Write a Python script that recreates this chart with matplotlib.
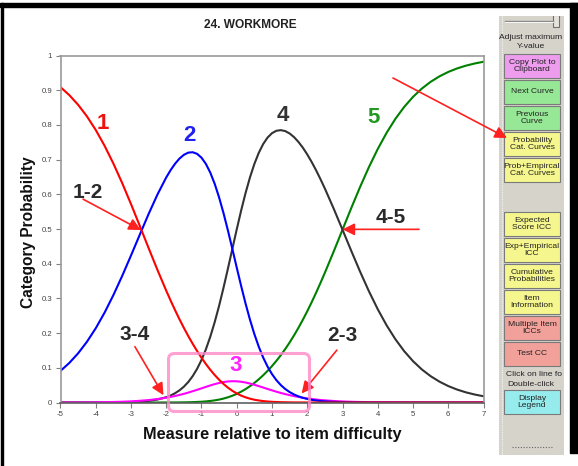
import matplotlib
matplotlib.use('Agg')
import matplotlib.pyplot as plt
from matplotlib.patches import Rectangle, FancyBboxPatch

plt.rcParams['font.family'] = ['Liberation Sans', 'DejaVu Sans']
plt.rcParams['axes.unicode_minus'] = False

# category probability curves; finer steps through the middle where they bend most
measure = [-5.0, -4.75, -4.5, -4.25, -4.0, -3.75, -3.5, -3.25, -3.0, -2.75, -2.5, -2.25,
           -2.0, -1.875, -1.75, -1.625, -1.5, -1.375, -1.25, -1.125, -1.0, -0.875, -0.75,
           -0.625, -0.5, -0.375, -0.25, -0.125, 0.0, 0.125, 0.25, 0.375, 0.5, 0.625, 0.75,
           0.875, 1.0, 1.125, 1.25, 1.375, 1.5, 1.625, 1.75, 1.875, 2.0, 2.125, 2.25, 2.375,
           2.5, 2.75, 3.0, 3.25, 3.5, 3.75, 4.0, 4.25, 4.5, 4.75, 5.0, 5.25, 5.5, 5.75,
           6.0, 6.25, 6.5, 6.75, 7.0]
p1 = [.9088, .8858, .8579, .8246, .7853, .7399, .6887, .6323, .5718, .5087, .4449, .3821,
      .3221, .2936, .2661, .2399, .2150, .1914, .1692, .1483, .1289, .1108, .0942,
      .0791, .0655, .0533, .0428, .0337, .0261, .0199, .0149, .0110, .0080, .0058, .0041,
      .0029, .0020, .0014, .0010, .0007, .0005, .0003, .0002, .0001, .0001, 0, 0, 0,
      0, 0, 0, 0, 0, 0, 0, 0, 0, 0, 0, 0, 0, 0,
      0, 0, 0, 0, 0]
p2 = [.0911, .1140, .1418, .1750, .2140, .2589, .3095, .3648, .4236, .4839, .5434, .5993,
      .6487, .6699, .6881, .7030, .7138, .7201, .7212, .7166, .7055, .6875, .6623,
      .6300, .5907, .5455, .4956, .4427, .3887, .3357, .2852, .2387, .1970, .1606, .1294,
      .1033, .0818, .0643, .0502, .0389, .0301, .0231, .0177, .0134, .0102, .0077, .0058, .0043,
      .0032, .0018, .0010, .0005, .0003, .0001, .0001, 0, 0, 0, 0, 0, 0, 0,
      0, 0, 0, 0, 0]
p3 = [.0001, .0002, .0002, .0004, .0006, .0010, .0015, .0022, .0033, .0049, .0070, .0099,
      .0138, .0162, .0188, .0218, .0250, .0286, .0325, .0366, .0408, .0451, .0492,
      .0530, .0563, .0590, .0607, .0614, .0611, .0598, .0576, .0546, .0511, .0472, .0431,
      .0390, .0350, .0311, .0275, .0242, .0212, .0184, .0160, .0138, .0118, .0101, .0086, .0073,
      .0062, .0044, .0030, .0021, .0014, .0009, .0006, .0004, .0002, .0002, .0001, 0, 0, 0,
      0, 0, 0, 0, 0]
p4 = [0, 0, 0, 0, .0001, .0002, .0004, .0007, .0013, .0025, .0047, .0085,
      .0153, .0202, .0267, .0350, .0456, .0591, .0760, .0970, .1226, .1534, .1898,
      .2318, .2790, .3309, .3860, .4427, .4991, .5534, .6037, .6487, .6875, .7196, .7449,
      .7636, .7762, .7831, .7849, .7822, .7753, .7648, .7510, .7343, .7149, .6932, .6694, .6437,
      .6166, .5587, .4980, .4367, .3769, .3205, .2688, .2226, .1824, .1480, .1192, .0953, .0759, .0601,
      .0474, .0373, .0293, .0230, .0180]
p5 = [0, 0, 0, 0, 0, 0, 0, 0, 0, 0, 0, 0,
      .0001, .0002, .0002, .0003, .0005, .0007, .0011, .0016, .0022, .0032, .0045,
      .0062, .0084, .0113, .0150, .0195, .0249, .0312, .0386, .0470, .0564, .0669, .0785,
      .0912, .1050, .1201, .1364, .1540, .1730, .1934, .2152, .2384, .2630, .2889, .3162, .3446,
      .3740, .4351, .4980, .5607, .6214, .6785, .7306, .7770, .8174, .8518, .8807, .9046, .9241, .9399,
      .9526, .9627, .9707, .9770, .9820]

curves = [p1, p2, p3, p4, p5]
curve_colors = ['#FF0000', '#0000FF', '#FF00FF', '#333333', '#008000']
curve_names = ['1', '2', '3', '4', '5']
label_pos = [(-3.81, 0.805), (-1.33, 0.77), (-0.04, 0.107), (1.30, 0.828), (3.87, 0.82)]
label_colors = ['#EE1111', '#2222EE', '#FF22FF', '#333333', '#229922']

# threshold arrows: text, text position, arrow tail, arrow head
thresholds = [('1-2', (-4.23, 0.605), (-4.36, 0.586), (-2.72, 0.497)),
              ('4-5', (4.36, 0.532), (5.17, 0.499), (3.0, 0.499)),
              ('3-4', (-2.89, 0.195), (-2.89, 0.161), (-2.08, 0.021)),
              ('2-3', (3.0, 0.192), (2.84, 0.151), (1.84, 0.026))]

xticks = [-5, -4, -3, -2, -1, 0, 1, 2, 3, 4, 5, 6, 7]
yticks = [0, 0.1, 0.2, 0.3, 0.4, 0.5, 0.6, 0.7, 0.8, 0.9, 1]
yticklabels = ['0', '0.1', '0.2', '0.3', '0.4', '0.5', '0.6', '0.7', '0.8', '0.9', '1']

# side panel buttons (label, colour, top, bottom) in pixel rows
buttons = [('Copy Plot to\nClipboard', '#EE9CEE', 54, 78),
           ('Next Curve', '#96E896', 80, 104),
           ('Previous\nCurve', '#96E896', 106, 130),
           ('Probability\nCat. Curves', '#F6F68E', 132, 156),
           ('Prob+Empircal\nCat. Curves', '#F6F68E', 158, 182),
           ('Expected\nScore ICC', '#F6F68E', 212, 236),
           ('Exp+Empirical\nICC', '#F6F68E', 238, 262),
           ('Cumulative\nProbabilities', '#F6F68E', 264, 288),
           ('Item\nInformation', '#F6F68E', 290, 314),
           ('Multiple Item\nICCs', '#F2A09A', 316, 340),
           ('Test CC', '#F2A09A', 342, 366),
           ('Display\nLegend', '#96ECEC', 390, 414)]

W, H = 578, 466
fig = plt.figure(figsize=(W / 100, H / 100), dpi=100)
fig.patch.set_facecolor('white')

# background layer in pixel coordinates (window frame)
bg = fig.add_axes([0, 0, 1, 1], zorder=0)
bg.set_xlim(0, W)
bg.set_ylim(H, 0)
bg.axis('off')
bg.add_patch(Rectangle((0, 3), W, 4, color='black'))
bg.add_patch(Rectangle((0.5, 3), 2.8, H, color='black'))
bg.add_patch(Rectangle((570, 3), 8, 450, color='black'))

# main plot
ax = fig.add_axes([60.5 / W, (H - 402.5) / H, 423 / W, 347 / H], zorder=2)
ax.set_facecolor('none')
for i in [4, 3, 2, 1, 0]:
    ax.plot(measure, curves[i], color=curve_colors[i], lw=1.5,
            solid_capstyle='round', solid_joinstyle='round')
ax.set_xlim(-5, 7)
ax.set_ylim(0, 1)
ax.set_xticks(xticks)
ax.set_xticklabels([str(t) for t in xticks])
ax.set_yticks(yticks)
ax.set_yticklabels(yticklabels)
ax.tick_params(direction='out', length=3.5, width=0.8, color='#808080',
               labelsize=5.6, labelcolor='#444444', pad=2.5)
for s in ax.spines.values():
    s.set_color('#9A9A9A')
    s.set_linewidth(1.2)
ax.spines['bottom'].set_color('#606060')

for name, (lx, ly), c in zip(curve_names, label_pos, label_colors):
    ax.text(lx, ly, name, color=c, fontsize=16, fontweight='bold', ha='center', va='center')

for txt, tpos, tail, head in thresholds:
    ax.text(tpos[0], tpos[1], txt, color='#2A2A2A', fontsize=15, fontweight='bold',
            ha='center', va='center')
    ax.annotate('', xy=head, xytext=tail,
                arrowprops=dict(arrowstyle='-|>', color='#FF2020', lw=1.2,
                                mutation_scale=18, shrinkA=0, shrinkB=0))

fig.text(250 / W, 1 - 25 / H, '24. WORKMORE', fontsize=8.6, fontweight='bold',
         ha='center', va='center', color='#222222')
fig.text(272 / W, 1 - 434 / H, 'Measure relative to item difficulty', fontsize=11.8,
         fontweight='bold', ha='center', va='center', color='#111111')
fig.text(29 / W, 1 - 232 / H, 'Category Probability', fontsize=11.2, fontweight='bold',
         ha='center', va='center', rotation=90, color='#111111')

# button panel
pn = fig.add_axes([499 / W, (H - 455) / H, 65 / W, 439 / H], zorder=1)
pn.set_xlim(499, 564)
pn.set_ylim(455, 16)
pn.axis('off')
pn.add_patch(Rectangle((499, 16), 65, 439, color='#D6D3CB'))
pn.plot([502, 502], [16, 455], color='#F4F4F4', lw=0.8, ls=(0, (1, 1)))
pn.plot([505, 553], [21, 21], color='#8C8C8C', lw=1.0)
pn.plot([505, 553], [22, 22], color='#FFFFFF', lw=0.6)
pn.add_patch(Rectangle((553, 15), 6, 12, facecolor='#E6E3DB', edgecolor='#707070', lw=0.8))
pn.text(531, 38, 'Adjust maximum', fontsize=6.1, ha='center', va='center', color='#222222',
        clip_on=True)
pn.text(531, 47, 'Y-value', fontsize=6.1, ha='center', va='center', color='#222222')
for label, col, top, bot in buttons:
    pn.add_patch(Rectangle((504, top), 56, bot - top, facecolor=col, edgecolor='#7A7A7A',
                           lw=0.8))
    pn.text(532, (top + bot) / 2, label, fontsize=6.1, ha='center', va='center',
            color='#222222', linespacing=1.15, clip_on=True)
pn.text(534, 375, 'Click on line fo', fontsize=6.1, ha='center', va='center', color='#222222',
        clip_on=True)
pn.text(531, 385, 'Double-click', fontsize=6.1, ha='center', va='center', color='#222222')
pn.plot([512, 552], [447, 447], color='#666666', lw=0.8, ls=(0, (1, 1.5)))

# overlay: pink box round category 3 and the pointer to the panel
ov = fig.add_axes([0, 0, 1, 1], zorder=3)
ov.set_xlim(0, W)
ov.set_ylim(H, 0)
ov.axis('off')
ov.add_patch(FancyBboxPatch((168.5, 353.5), 141, 58, boxstyle='round,pad=0,rounding_size=6',
                            facecolor='none', edgecolor='#FF88C8', lw=2.2, alpha=0.8))
ov.annotate('', xy=(507, 138), xytext=(393, 78),
            arrowprops=dict(arrowstyle='-|>', color='#FF2020', lw=1.2,
                            mutation_scale=18, shrinkA=0, shrinkB=0))

fig.savefig('out.png', dpi=100)
